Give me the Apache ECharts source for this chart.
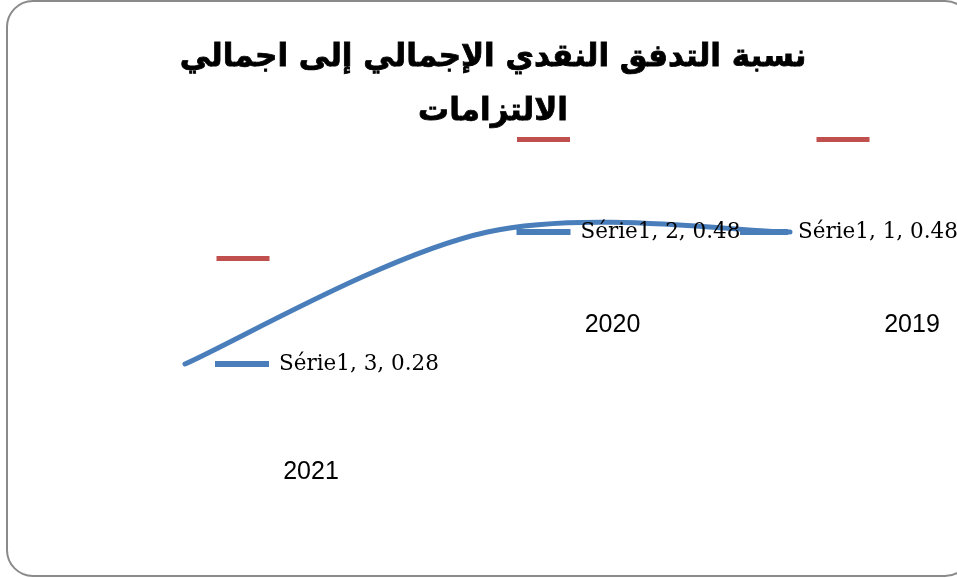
<!DOCTYPE html>
<html>
<head>
<meta charset="utf-8">
<script src="https://cdn.jsdelivr.net/npm/echarts@6/dist/echarts.min.js"></script>
<style>
  html, body { margin: 0; padding: 0; background: #fff; }
  #chart { width: 957px; height: 578px; }
</style>
</head>
<body>
<div id="chart"></div>
<script>
// data
const years = ['2019', '2020', '2021']
const pointNo = [1, 2, 3]
const ratio = [0.48, 0.48, 0.28]
const redKeys = [0.62, 0.62, 0.44]
const seriesName = 'Série1'
const title = 'نسبة التدفق النقدي الإجمالي إلى اجمالي\nالالتزامات'

// per-point offsets of the legend keys / labels (Excel moved them around)
const blueKeyOffset = [[-26, 0], [56, 0], [57, 0]]
const blueKeyWidth = [48, 54, 54]
const redKeyOffset = [[53, 0], [56, 0], [58, 0]]
const yearOffset = [[69, 186], [69, 186], [68, 214]]

const blue = '#4a7ebb'
const red = '#c0504d'

// excel style smoothed line (catmull-rom -> bezier), the built-in smooth flattens it
function smoothLine(params, api) {
  if (params.dataIndex !== 0) return
  let pts = ratio.map((v, i) => api.coord([i, v]))
  let d = 'M' + pts[0][0] + ' ' + pts[0][1]
  for (let i = 0; i < pts.length - 1; i++) {
    let p0 = pts[i - 1] || pts[i]
    let p1 = pts[i]
    let p2 = pts[i + 1]
    let p3 = pts[i + 2] || pts[i + 1]
    let c1 = [p1[0] + (p2[0] - p0[0]) / 6, p1[1] + (p2[1] - p0[1]) / 6]
    let c2 = [p2[0] - (p3[0] - p1[0]) / 6, p2[1] - (p3[1] - p1[1]) / 6]
    d += ' C' + c1.join(' ') + ' ' + c2.join(' ') + ' ' + p2.join(' ')
  }
  return {
    type: 'path',
    shape: { pathData: d },
    style: { fill: 'none', stroke: blue, lineWidth: 5, lineCap: 'round' },
  }
}

let chart = echarts.init(document.getElementById('chart'))

let option = {
  animation: false,
  backgroundColor: '#fff',
  title: {
    text: title,
    left: 488,
    textAlign: 'center',
    top: 26,
    textStyle: {
      fontFamily: 'DejaVu Sans',
      fontWeight: 'bold',
      fontSize: 31,
      lineHeight: 54,
      color: '#000',
      textBorderColor: '#000',
      textBorderWidth: 0.8,
    },
  },
  graphic: [
    {
      type: 'rect',
      shape: { x: 7, y: 1, width: 964, height: 575, r: 26 },
      style: { fill: 'none', stroke: '#8a8a8a', lineWidth: 2 },
      silent: true,
    },
  ],
  grid: { left: 185, right: 167, top: 20.8, bottom: 29.2 },
  xAxis: {
    type: 'category',
    data: years,
    inverse: true,
    boundaryGap: false,
    show: false,
  },
  yAxis: {
    type: 'value',
    min: 0,
    max: 0.8,
    show: false,
  },
  series: [
    {
      name: seriesName,
      type: 'custom',
      data: ratio.map((v, i) => [i, v]),
      renderItem: smoothLine,
      z: 2,
    },
    {
      // red keys, carrying the year labels
      type: 'scatter',
      data: redKeys.map((v, i) => ({
        value: v,
        symbolOffset: redKeyOffset[i],
        label: { offset: yearOffset[i] },
      })),
      symbol: 'rect',
      symbolSize: [53, 5],
      itemStyle: { color: red, opacity: 1 },
      label: {
        show: true,
        position: 'inside',
        formatter: (p) => years[p.dataIndex],
        fontFamily: 'Liberation Sans',
        fontSize: 25,
        color: '#000',
      },
      z: 3,
    },
    {
      // blue keys with the data labels
      type: 'scatter',
      data: ratio.map((v, i) => ({
        value: v,
        symbolOffset: blueKeyOffset[i],
        symbolSize: [blueKeyWidth[i], 6],
      })),
      symbol: 'rect',
      itemStyle: { color: blue, opacity: 1 },
      label: {
        show: true,
        position: 'right',
        distance: 10,
        formatter: (p) => seriesName + ', ' + pointNo[p.dataIndex] + ', ' + ratio[p.dataIndex],
        fontFamily: 'DejaVu Serif',
        fontSize: 21.5,
        color: '#000',
      },
      z: 4,
    },
  ],
}

chart.setOption(option)
</script>
</body>
</html>
